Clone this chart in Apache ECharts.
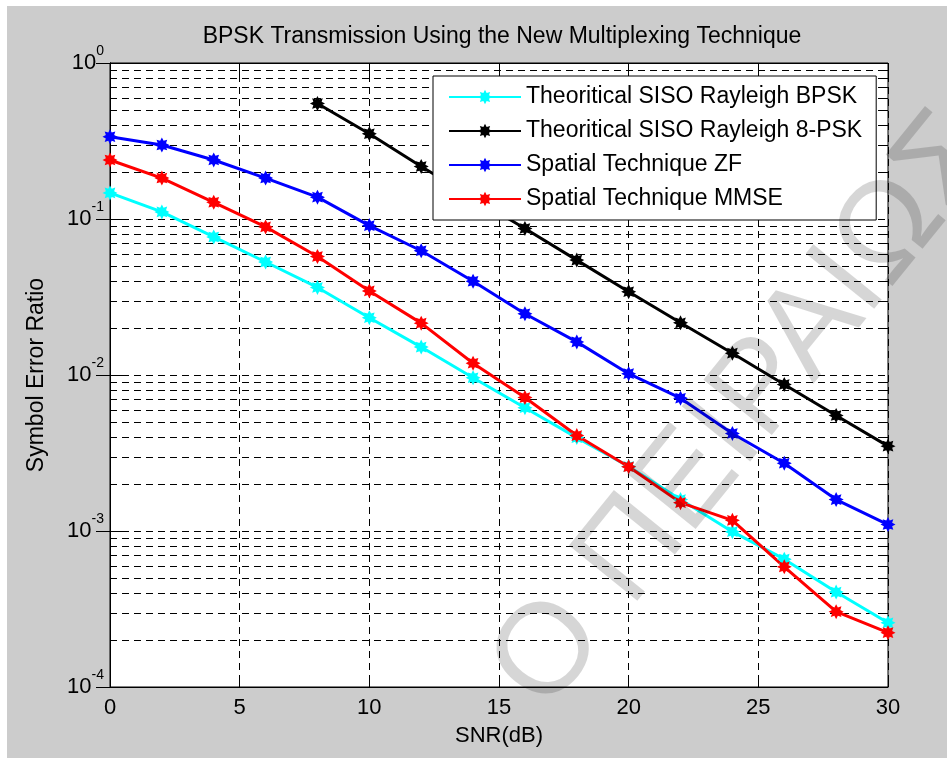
<!DOCTYPE html>
<html>
<head>
<meta charset="utf-8">
<script src="https://cdn.jsdelivr.net/npm/echarts@6/dist/echarts.min.js"></script>
<style>
html,body{margin:0;padding:0;background:#fff;}
#chart{width:947px;height:758px;}
</style>
</head>
<body>
<div id="chart"></div>
<script>
// ---- data ----
var snr = [0, 2, 4, 6, 8, 10, 12, 14, 16, 18, 20, 22, 24, 26, 28, 30];
var xTicks = [0, 5, 10, 15, 20, 25, 30];
var theoBPSK = [0.147, 0.111, 0.0767, 0.053, 0.0364, 0.0233, 0.0151, 0.0096, 0.00617, 0.00397, 0.00259, 0.00159, 0.00099, 0.00066, 0.000406, 0.000258];
var theo8PSK = [null, null, null, null, 0.55, 0.352, 0.217, 0.137, 0.087, 0.0545, 0.0342, 0.0216, 0.0138, 0.0087, 0.0055, 0.0035];
var zfSER    = [0.337, 0.298, 0.239, 0.183, 0.138, 0.0907, 0.0626, 0.0399, 0.0247, 0.0163, 0.0102, 0.0071, 0.00422, 0.00272, 0.00159, 0.0011];
var mmseSER  = [0.239, 0.183, 0.128, 0.089, 0.0575, 0.0346, 0.0215, 0.0119, 0.00717, 0.00409, 0.00258, 0.00152, 0.00117, 0.000589, 0.000304, 0.000223];
var seriesNames = ['Theoritical SISO Rayleigh BPSK', 'Theoritical SISO Rayleigh 8-PSK', 'Spatial Technique ZF', 'Spatial Technique MMSE'];
var seriesColors = ['#00ffff', '#000000', '#0000ff', '#ff0000'];
var yDecades = [1e-4, 1e-3, 1e-2, 1e-1];
var minorMultipliers = [2, 3, 4, 5, 6, 7, 8, 9];

// minor log grid positions (2..9 in each decade)
var minorVals = [];
yDecades.forEach(function (d) { minorMultipliers.forEach(function (m) { minorVals.push([0, d * m]); }); });

function pairs(ys) { return snr.map(function (x, i) { return [x, ys[i]]; }); }

var FONT = "'Liberation Sans', Arial, Helvetica, sans-serif";
// 8-point star marker (bold asterisk look)
var STAR = 'path://M50,0 L61.5,22.3 L85.4,14.6 L77.7,38.5 L100,50 L77.7,61.5 L85.4,85.4 L61.5,77.7 L50,100 L38.5,77.7 L14.6,85.4 L22.3,61.5 L0,50 L22.3,38.5 L14.6,14.6 L38.5,22.3 Z';
var dash = [7, 5];

var allData = [theoBPSK, theo8PSK, zfSER, mmseSER];
var lineSeries = allData.map(function (d, i) {
  return {
    name: seriesNames[i],
    type: 'line',
    data: pairs(d),
    connectNulls: false,
    symbol: STAR,
    symbolSize: 15,
    showSymbol: true,
    color: seriesColors[i],
    lineStyle: { width: 3, color: seriesColors[i] },
    itemStyle: { color: seriesColors[i] },
    z: 3,
    silent: true,
    animation: false
  };
});

var chart = echarts.init(document.getElementById('chart'), null, { renderer: 'canvas' });
var option = {
  animation: false,
  backgroundColor: '#ffffff',
  textStyle: { fontFamily: FONT },
  title: {
    text: 'BPSK Transmission Using the New Multiplexing Technique',
    left: 497,
    textAlign: 'center',
    top: 20,
    textStyle: { fontFamily: FONT, fontSize: 23, fontWeight: 'normal', color: '#000' }
  },
  graphic: [
    { type: 'rect', shape: { x: 7, y: 6, width: 940, height: 752 }, style: { fill: '#cccccc' }, z: -100, silent: true },
    {
      type: 'text', x: 745, y: 412, rotation: 51 * Math.PI / 180, z: 100, silent: true,
      style: {
        text: 'Ο ΠΕΙΡΑΙΩΣ', fontSize: 128, fontFamily: FONT, fill: 'rgba(0,0,0,0.16)',
        align: 'center', verticalAlign: 'middle'
      }
    }
  ],
  legend: {
    data: seriesNames,
    orient: 'vertical',
    left: 433,
    top: 76,
    padding: [9, 14, 9, 15],
    itemGap: 10,
    itemWidth: 72,
    itemHeight: 18,
    backgroundColor: '#ffffff',
    borderColor: '#000',
    borderWidth: 1,
    borderRadius: 0,
    textStyle: { fontFamily: FONT, fontSize: 23, color: '#000', lineHeight: 24 },
    z: 10
  },
  grid: {
    left: 110, top: 63, right: 59, bottom: 71,
    show: true, backgroundColor: '#ffffff', borderColor: '#000', borderWidth: 1
  },
  xAxis: [{
    type: 'value', min: 0, max: 30, interval: 5,
    axisLine: { show: true, lineStyle: { color: '#000', width: 1 } },
    axisTick: { show: true, inside: true, length: 12, lineStyle: { color: '#000' } },
    axisLabel: { fontFamily: FONT, fontSize: 22, color: '#000', margin: 10 },
    splitLine: { show: true, lineStyle: { color: '#000', type: dash, width: 1 } },
    name: 'SNR(dB)', nameLocation: 'middle', nameGap: 38,
    nameTextStyle: { fontFamily: FONT, fontSize: 22, color: '#000' }
  }, {
    type: 'value', min: 0, max: 30, interval: 5, position: 'top',
    axisLine: { show: true, lineStyle: { color: '#000', width: 1 } },
    axisTick: { show: true, inside: true, length: 12, lineStyle: { color: '#000' } },
    axisLabel: { show: false }, splitLine: { show: false }
  }],
  yAxis: [{
    type: 'log', logBase: 10, min: 1e-4, max: 1,
    axisLine: { show: true, lineStyle: { color: '#000', width: 1 } },
    axisTick: { show: true, inside: true, length: 14, lineStyle: { color: '#000' } },
    axisLabel: {
      margin: 6,
      formatter: function (v) { var e = Math.round(Math.log10(v)); return '{b|10}{s|' + e + '}'; },
      rich: {
        b: { fontFamily: FONT, fontSize: 22, color: '#000' },
        s: { fontFamily: FONT, fontSize: 14, color: '#000', padding: [0, 0, 24, 0] }
      }
    },
    splitLine: { show: true, lineStyle: { color: '#000', type: dash, width: 1 } },
    name: 'Symbol Error Ratio', nameLocation: 'middle', nameGap: 62, nameRotate: 90,
    nameTextStyle: { fontFamily: FONT, fontSize: 23, color: '#000' }
  }, {
    type: 'log', logBase: 10, min: 1e-4, max: 1, position: 'right',
    axisLine: { show: true, lineStyle: { color: '#000', width: 1 } },
    axisTick: { show: true, inside: true, length: 14, lineStyle: { color: '#000' } },
    axisLabel: { show: false }, splitLine: { show: false }
  }],
  series: [{
    name: 'minorGrid',
    type: 'custom',
    silent: true,
    z: 1,
    data: minorVals,
    encode: { x: 0, y: 1 },
    renderItem: function (params, api) {
      var p = api.coord([0, api.value(1)]);
      var cs = params.coordSys;
      var y = Math.round(p[1]) + 0.5;
      var x0 = cs.x, x1 = cs.x + cs.width;
      return {
        type: 'group',
        children: [
          { type: 'line', shape: { x1: x0, y1: y, x2: x1, y2: y }, style: { stroke: '#000', lineWidth: 1, lineDash: dash } },
          { type: 'line', shape: { x1: x0, y1: y, x2: x0 + 7, y2: y }, style: { stroke: '#000', lineWidth: 1 } },
          { type: 'line', shape: { x1: x1 - 7, y1: y, x2: x1, y2: y }, style: { stroke: '#000', lineWidth: 1 } }
        ]
      };
    }
  }].concat(lineSeries)
};
chart.setOption(option);
</script>
</body>
</html>
